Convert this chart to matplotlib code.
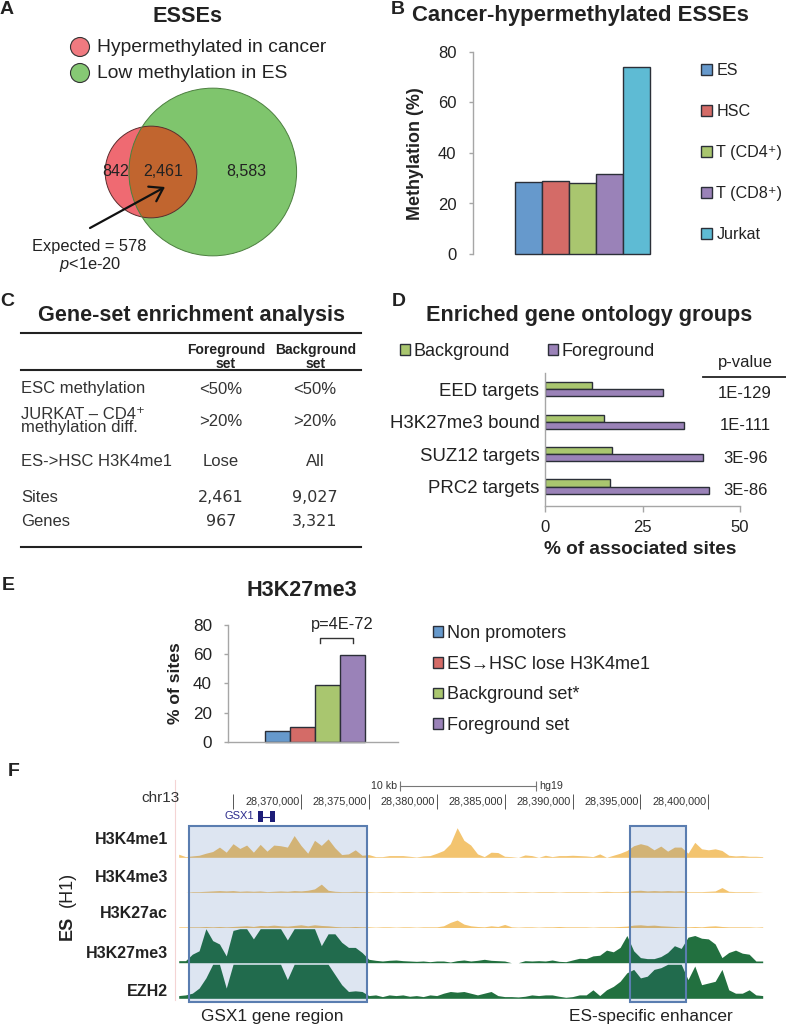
import numpy as np
import matplotlib
matplotlib.use("Agg")
import matplotlib.pyplot as plt
from matplotlib.patches import Circle, Rectangle

plt.rcParams['font.family'] = ['Liberation Sans', 'DejaVu Sans']
plt.rcParams['mathtext.fontset'] = 'custom'
plt.rcParams['mathtext.rm'] = 'Liberation Sans'
plt.rcParams['mathtext.it'] = 'Liberation Sans:italic'

TXT = "#222222"
AX_GRAY = "#a6a6a6"
EDGE = "#2b2f38"
BLUE, RED, GREEN, PURPLE, AQUA = "#6699cc", "#d46b67", "#a9c66f", "#9a82b8", "#5ebbd4"
plt.rcParams['text.color'] = TXT

# ---- A: Venn of ESSEs
venn_hyper_only = 842
venn_both = 2461
venn_low_only = 8583
expected_overlap = 578
expected_p = "$p$<1e-20"

# ---- B: methylation of cancer-hypermethylated ESSEs
b_samples = ["ES", "HSC", "T (CD4⁺)", "T (CD8⁺)", "Jurkat"]
b_methylation = [28.4, 29.0, 28.1, 31.6, 73.9]
b_colors = [BLUE, RED, GREEN, PURPLE, AQUA]

# ---- C: gene-set enrichment table
c_rows = ["ESC methylation", "JURKAT – CD4⁺\nmethylation diff.", "ES->HSC H3K4me1", "Sites", "Genes"]
c_foreground = ["<50%", ">20%", "Lose", "2,461", "967"]
c_background = ["<50%", ">20%", "All", "9,027", "3,321"]

# ---- D: enriched GO groups
d_groups = ["EED targets", "H3K27me3 bound", "SUZ12 targets", "PRC2 targets"]
d_background = [12.0, 15.0, 17.1, 16.7]
d_foreground = [30.3, 35.7, 40.4, 42.1]
d_pvalues = ["1E-129", "1E-111", "3E-96", "3E-86"]

# ---- E: H3K27me3
e_sets = ["Non promoters", "ES→HSC lose H3K4me1", "Background set*", "Foreground set"]
e_percent = [7.3, 9.8, 38.6, 59.4]
e_colors = [BLUE, RED, GREEN, PURPLE]
e_pvalue = "p=4E-72"

# ---- F: genome browser, chr13 (kb), signal as fraction of track height
f_kb = 28361.0 + 0.5 * np.arange(87)
f_names = ["H3K4me1", "H3K4me3", "H3K27ac", "H3K27me3", "EZH2"]
f_h3k4me1 = [
    0.09, 0.02, 0.04, 0.06, 0.12, 0.17, 0.30, 0.15, 0.40, 0.26,
    0.36, 0.15, 0.38, 0.18, 0.36, 0.34, 0.30, 0.64, 0.35, 0.12,
    0.50, 0.35, 0.54, 0.28, 0.08, 0.10, 0.22, 0.06, 0.08, 0.02,
    0.02, 0.05, 0.05, 0.05, 0.03, 0.01, 0.04, 0.05, 0.12, 0.20,
    0.40, 0.87, 0.50, 0.36, 0.10, 0.02, 0.15, 0.14, 0.03, 0.02,
    0.00, 0.07, 0.05, 0.00, 0.06, 0.02, 0.05, 0.05, 0.06, 0.05,
    0.04, 0.02, 0.10, 0.00, 0.06, 0.12, 0.20, 0.34, 0.40, 0.35,
    0.22, 0.33, 0.18, 0.30, 0.30, 0.12, 0.44, 0.25, 0.22, 0.25,
    0.20, 0.06, 0.04, 0.05, 0.03, 0.03, 0.02]
f_h3k4me3 = [
    0.00, 0.00, 0.02, 0.02, 0.03, 0.04, 0.05, 0.04, 0.05, 0.03,
    0.04, 0.03, 0.04, 0.02, 0.03, 0.04, 0.03, 0.05, 0.04, 0.06,
    0.10, 0.24, 0.06, 0.03, 0.02, 0.02, 0.03, 0.02, 0.02, 0.01,
    0.02, 0.02, 0.01, 0.02, 0.02, 0.01, 0.02, 0.02, 0.01, 0.02,
    0.02, 0.02, 0.01, 0.02, 0.02, 0.01, 0.02, 0.02, 0.02, 0.01,
    0.02, 0.02, 0.01, 0.02, 0.02, 0.02, 0.01, 0.02, 0.02, 0.02,
    0.02, 0.01, 0.02, 0.03, 0.02, 0.02, 0.03, 0.05, 0.06, 0.04,
    0.05, 0.04, 0.05, 0.04, 0.05, 0.02, 0.02, 0.02, 0.03, 0.04,
    0.14, 0.03, 0.02, 0.02, 0.02, 0.01, 0.00]
f_h3k27ac = [
    0.02, 0.02, 0.02, 0.02, 0.03, 0.02, 0.03, 0.02, 0.03, 0.04,
    0.05, 0.03, 0.06, 0.05, 0.07, 0.05, 0.04, 0.06, 0.08, 0.05,
    0.08, 0.06, 0.05, 0.03, 0.02, 0.02, 0.03, 0.02, 0.02, 0.01,
    0.02, 0.02, 0.01, 0.02, 0.02, 0.01, 0.02, 0.02, 0.02, 0.05,
    0.15, 0.22, 0.10, 0.05, 0.03, 0.02, 0.05, 0.03, 0.09, 0.02,
    0.01, 0.02, 0.02, 0.01, 0.02, 0.02, 0.03, 0.02, 0.02, 0.02,
    0.02, 0.01, 0.02, 0.02, 0.02, 0.03, 0.04, 0.07, 0.08, 0.06,
    0.07, 0.05, 0.04, 0.03, 0.02, 0.02, 0.03, 0.02, 0.04, 0.05,
    0.03, 0.02, 0.02, 0.02, 0.02, 0.01, 0.02]
f_h3k27me3 = [
    0.06, 0.06, 0.25, 0.35, 1.00, 0.65, 0.55, 0.20, 0.95, 1.00,
    1.00, 0.70, 1.00, 1.00, 1.00, 1.00, 0.67, 1.00, 1.00, 1.00,
    1.00, 0.50, 0.85, 0.85, 0.60, 0.45, 0.45, 0.30, 0.10, 0.07,
    0.05, 0.07, 0.08, 0.06, 0.05, 0.04, 0.05, 0.03, 0.05, 0.05,
    0.02, 0.06, 0.08, 0.05, 0.07, 0.10, 0.07, 0.06, 0.05, 0.00,
    0.00, 0.06, 0.05, 0.06, 0.05, 0.08, 0.04, 0.03, 0.08, 0.13,
    0.12, 0.20, 0.22, 0.37, 0.32, 0.45, 0.80, 0.35, 0.15, 0.12,
    0.12, 0.18, 0.30, 0.50, 0.42, 0.75, 0.80, 0.72, 0.70, 0.55,
    0.15, 0.30, 0.37, 0.28, 0.25, 0.05, 0.05]
f_ezh2 = [
    0.08, 0.10, 0.15, 0.30, 0.60, 1.00, 1.00, 0.30, 1.00, 1.00,
    1.00, 1.00, 1.00, 1.00, 1.00, 1.00, 0.55, 1.00, 1.00, 1.00,
    1.00, 1.00, 1.00, 0.70, 0.40, 0.20, 0.22, 0.20, 0.08, 0.10,
    0.05, 0.10, 0.08, 0.10, 0.06, 0.08, 0.05, 0.10, 0.08, 0.15,
    0.20, 0.18, 0.20, 0.15, 0.10, 0.15, 0.20, 0.08, 0.05, 0.05,
    0.04, 0.06, 0.10, 0.08, 0.10, 0.10, 0.06, 0.03, 0.05, 0.10,
    0.10, 0.25, 0.08, 0.25, 0.35, 0.50, 0.75, 0.85, 0.60, 0.65,
    0.85, 0.90, 1.00, 1.00, 1.00, 0.55, 0.95, 0.40, 0.45, 0.50,
    0.85, 0.25, 0.15, 0.15, 0.25, 0.10, 0.08]
f_tracks = [f_h3k4me1, f_h3k4me3, f_h3k27ac, f_h3k27me3, f_ezh2]
f_colors = ["#f3c46f", "#f3c46f", "#f3c46f", "#22703f", "#22703f"]
f_coord_ticks = [28365, 28370, 28375, 28380, 28385, 28390, 28395, 28400]
f_gsx1_exons = [(28366.84, 28367.21), (28367.72, 28368.09)]
f_regions = [(28361.75, 28374.85), (28394.25, 28398.35)]
f_region_names = ["GSX1 gene region", "ES-specific enhancer"]

W, H = 786, 1027
fig = plt.figure(figsize=(W / 100, H / 100), dpi=100)


def px_axes(x0, y0, x1, y1):
    ax = fig.add_axes([x0 / W, 1 - y1 / H, (x1 - x0) / W, (y1 - y0) / H])
    ax.patch.set_visible(False)
    return ax


def fig_xy(x, y):
    return (x / W, 1 - y / H)


def gray_spines(ax, keep):
    for s in ["top", "right", "bottom", "left"]:
        ax.spines[s].set_visible(s in keep)
        ax.spines[s].set_color(AX_GRAY)
        ax.spines[s].set_linewidth(1.0)


# ---------------- B
ax_b = px_axes(473, 52, 692, 254)
bars_b = ax_b.bar(np.arange(len(b_samples)), b_methylation, width=1.0, color=b_colors,
                  edgecolor=EDGE, linewidth=1.0, clip_on=False)
ax_b.set_xlim(-2.05, 6.05)
ax_b.set_ylim(0, 80)
ax_b.set_yticks([0, 20, 40, 60, 80])
ax_b.set_xticks([])
gray_spines(ax_b, ["left"])
ax_b.tick_params(axis="y", length=3, width=1, color=AX_GRAY, labelsize=12, pad=9, labelcolor=TXT)
ax_b.legend(bars_b.patches, b_samples, loc="upper left", bbox_to_anchor=fig_xy(701, 63),
            bbox_transform=fig.transFigure, frameon=False, fontsize=11.6, borderpad=0,
            borderaxespad=0, handlelength=0.7, handleheight=0.7, handletextpad=0.25,
            labelspacing=1.62, labelcolor=TXT)

# ---------------- D
ax_d = px_axes(545, 373, 740, 506)
yd = np.arange(len(d_groups))
bars_bg = ax_d.barh(yd - 0.11, d_background, height=0.22, color=GREEN, edgecolor=EDGE, linewidth=1.0)
bars_fg = ax_d.barh(yd + 0.11, d_foreground, height=0.22, color=PURPLE, edgecolor=EDGE, linewidth=1.0)
ax_d.set_xlim(0, 50)
ax_d.set_ylim(3.6, -0.5)
ax_d.set_xticks([0, 25, 50])
ax_d.set_yticks(yd, d_groups)
gray_spines(ax_d, ["left", "bottom"])
ax_d.tick_params(axis="x", length=4.3, width=1, color=AX_GRAY, labelsize=12, pad=6, labelcolor=TXT)
ax_d.tick_params(axis="y", length=0, labelsize=13.4, pad=4, labelcolor=TXT)
for i, p in enumerate(d_pvalues):
    ax_d.text(51.3, i + 0.13, p, ha="center", va="center", fontsize=12, clip_on=False)
ax_d.legend([bars_bg, bars_fg], ["Background", "Foreground"], loc="upper left",
            bbox_to_anchor=fig_xy(400, 343), bbox_transform=fig.transFigure, ncol=2,
            frameon=False, fontsize=13, borderpad=0, borderaxespad=0, handlelength=0.55,
            handleheight=0.55, handletextpad=0.2, columnspacing=2.1, labelcolor=TXT)

# ---------------- E
ax_e = px_axes(228, 625, 398, 741.7)
bars_e = ax_e.bar(np.arange(len(e_sets)), e_percent, width=1.0, color=e_colors,
                  edgecolor=EDGE, linewidth=1.0, clip_on=False)
ax_e.set_xlim(-1.98, 4.82)
ax_e.set_ylim(0, 80)
ax_e.set_yticks([0, 20, 40, 60, 80])
ax_e.set_xticks([])
gray_spines(ax_e, ["left", "bottom"])
ax_e.tick_params(axis="y", length=3, width=1, color=AX_GRAY, labelsize=12.3, pad=8.5, labelcolor=TXT)
top = max(e_percent[2:]) + 11.9
ax_e.plot([1.7, 1.7, 3.0, 3.0], [top - 3.4, top, top, top - 3.4], color="#333333", lw=1.0, clip_on=False)
ax_e.text(2.6, 80, e_pvalue, ha="center", va="center", fontsize=11.8, clip_on=False)
ax_e.legend(bars_e.patches, e_sets, loc="upper left", bbox_to_anchor=fig_xy(433, 625),
            bbox_transform=fig.transFigure, frameon=False, fontsize=13, borderpad=0,
            borderaxespad=0, handlelength=0.55, handleheight=0.55, handletextpad=0.2,
            labelspacing=0.76, labelcolor=TXT)

# ---------------- F
ax_f = px_axes(176, 775, 765, 1005)
ax_f.set_xlim(28360.80, 28404.17)
ax_f.set_ylim(230, 0)
ax_f.axis("off")
baselines = [82.3, 117.3, 152.5, 187.7, 223.3]
track_h = 34
for vals, base, col in zip(f_tracks, baselines, f_colors):
    v = np.array(vals)
    ax_f.fill_between(f_kb, base, base - v * track_h, color=col, lw=0)
for a, b in f_regions:
    ax_f.add_patch(Rectangle((a, 51), b - a, 176, facecolor="#1c52a2", alpha=0.15, lw=0, zorder=3))
    ax_f.add_patch(Rectangle((a, 51), b - a, 176, fill=False, edgecolor="#5a7db0", lw=1.5, zorder=4))
# ruler
ax_f.vlines(f_coord_ticks, 19, 34, color="#555555", lw=0.7)
for t in f_coord_ticks[1:]:
    ax_f.text(t - 0.12, 27, f"{t * 1000:,}", ha="right", va="center", fontsize=7.8, color="#333333")
ax_f.plot([28377.3, 28387.3], [11, 11], color="#777777", lw=0.8)
ax_f.vlines([28377.3, 28387.3], 6, 16, color="#777777", lw=0.8)
ax_f.text(28377.1, 11, "10 kb", ha="right", va="center", fontsize=7.7, color="#333333")
ax_f.text(28387.55, 11, "hg19", ha="left", va="center", fontsize=7.7, color="#333333")
# gene
for a, b in f_gsx1_exons:
    ax_f.add_patch(Rectangle((a, 36), b - a, 11, color="#1d1d78", lw=0))
ax_f.plot([f_gsx1_exons[0][1], f_gsx1_exons[1][0]], [41.5, 41.5], color="#1d1d78", lw=0.8)
ax_f.text(f_gsx1_exons[0][0] - 0.3, 41, "GSX1", ha="right", va="center", fontsize=8, color="#2b2b8c")

# ---------------- overlay (A, C and labels)
ov = fig.add_axes([0, 0, 1, 1])
ov.set_xlim(0, W)
ov.set_ylim(H, 0)
ov.axis("off")
ov.patch.set_visible(False)

for lab, x, y in [("A", 7, 10), ("B", 398, 10), ("C", 7, 301), ("D", 399, 301), ("E", 8, 585), ("F", 14, 772)]:
    ov.text(x, y, lab, fontsize=14, fontweight="bold", ha="center", va="center")

# A
ov.text(187, 16, "ESSEs", fontsize=15.6, fontweight="bold", ha="center", va="center")
ov.add_patch(Circle((80, 47), 9.5, facecolor="#f07a80", edgecolor="#333333", lw=0.8))
ov.add_patch(Circle((80, 73), 9.5, facecolor="#86c974", edgecolor="#333333", lw=0.8))
ov.text(97, 47, "Hypermethylated in cancer", fontsize=13.9, va="center")
ov.text(97, 73, "Low methylation in ES", fontsize=13.9, va="center")

area_per_site = 2.0
r_hyper = np.sqrt((venn_hyper_only + venn_both) * area_per_site / np.pi)
r_low = np.sqrt((venn_both + venn_low_only) * area_per_site / np.pi)


def lens_area(r1, r2, d):
    a1 = np.arccos((d * d + r1 * r1 - r2 * r2) / (2 * d * r1))
    a2 = np.arccos((d * d + r2 * r2 - r1 * r1) / (2 * d * r2))
    k = 0.5 * np.sqrt((-d + r1 + r2) * (d + r1 - r2) * (d - r1 + r2) * (d + r1 + r2))
    return r1 * r1 * a1 + r2 * r2 * a2 - k


lo, hi = r_low - r_hyper + 1e-6, r_low + r_hyper - 1e-6
target = venn_both * area_per_site
for _ in range(60):
    mid = 0.5 * (lo + hi)
    if lens_area(r_hyper, r_low, mid) > target:
        lo = mid
    else:
        hi = mid
dist = 0.5 * (lo + hi)
cx_h, cy = 151, 172
cx_l = cx_h + dist
ov.add_patch(Circle((cx_h, cy), r_hyper, facecolor="#ef6a72", lw=0))
green_c = Circle((cx_l, cy), r_low, facecolor="#7fc56d", lw=0)
ov.add_patch(green_c)
lens = Circle((cx_h, cy), r_hyper, facecolor="#c1652f", lw=0)
ov.add_patch(lens)
lens.set_clip_path(green_c)
ov.add_patch(Circle((cx_h, cy), r_hyper, fill=False, edgecolor="#5b2e2e", lw=0.7))
ov.add_patch(Circle((cx_l, cy), r_low, fill=False, edgecolor="#4c7f3f", lw=0.7))
ov.text(((cx_h - r_hyper) + (cx_l - r_low)) / 2 - 1, cy, f"{venn_hyper_only:,}", fontsize=11.5, ha="center", va="center")
ov.text(((cx_l - r_low) + (cx_h + r_hyper)) / 2, cy, f"{venn_both:,}", fontsize=11.5, ha="center", va="center")
ov.text(((cx_h + r_hyper) + (cx_l + r_low)) / 2, cy, f"{venn_low_only:,}", fontsize=11.5, ha="center", va="center")
ov.annotate("", xy=(165, 187), xytext=(90, 228),
            arrowprops=dict(arrowstyle="->,head_length=0.45,head_width=0.3", lw=1.6,
                            color="#111111", mutation_scale=20, shrinkA=0, shrinkB=0))
ov.text(89, 246, f"Expected = {expected_overlap}", fontsize=11.8, ha="center", va="center")
ov.text(90, 264, expected_p, fontsize=11.8, ha="center", va="center")

# B labels
ov.text(580, 15, "Cancer-hypermethylated ESSEs", fontsize=15.9, fontweight="bold", ha="center", va="center")
ov.text(415, 154, "Methylation (%)", fontsize=12.9, fontweight="bold", rotation=90, ha="center", va="center")

# C table
ov.text(191, 315, "Gene-set enrichment analysis", fontsize=15.6, fontweight="bold", ha="center", va="center")
ov.plot([21, 361], [333, 333], color="#222222", lw=1.5)
ov.text(226, 357, "Foreground\nset", fontsize=10, fontweight="bold", ha="center", va="center", linespacing=1.0)
ov.text(316, 357, "Background\nset", fontsize=10, fontweight="bold", ha="center", va="center", linespacing=1.0)
ov.plot([21, 361], [369.5, 369.5], color="#222222", lw=1.5)
row_y = [389, 421, 462, 497, 522]
for i, (lab, fgv, bgv, y) in enumerate(zip(c_rows, c_foreground, c_background, row_y)):
    ov.text(21, y, lab, fontsize=12, ha="left", va="center", linespacing=0.85, color="#333333")
    fam = ["DejaVu Sans"] if i >= 3 else ["Liberation Sans", "DejaVu Sans"]
    fs = 11.5 if i >= 3 else 12
    ov.text(221, y, fgv, fontsize=fs, ha="center", va="center", family=fam, color="#333333")
    ov.text(315, y, bgv, fontsize=fs, ha="center", va="center", family=fam, color="#333333")
ov.plot([21, 361], [547, 547], color="#222222", lw=1.5)

# D labels
ov.text(589, 315, "Enriched gene ontology groups", fontsize=15.6, fontweight="bold", ha="center", va="center")
ov.text(745, 363, "p-value", fontsize=12, ha="center", va="center")
ov.plot([703, 786], [377, 377], color="#222222", lw=1.3)
ov.text(640, 550, "% of associated sites", fontsize=13.7, fontweight="bold", ha="center", va="center")

# E labels
ov.text(302, 591, "H3K27me3", fontsize=15.6, fontweight="bold", ha="center", va="center")
ov.text(175, 683, "% of sites", fontsize=12.6, fontweight="bold", rotation=90, ha="center", va="center")

# F labels
ov.plot([175, 175], [780, 1000], color="#f4d4d4", lw=0.8)
ov.text(180, 798, "chr13", fontsize=11, ha="right", va="center", color="#333333")
for name, y in zip(f_names, [840, 877, 914, 953, 992]):
    ov.text(168, y, name, fontsize=11.5, fontweight="bold", ha="right", va="center")
ov.text(67, 928, "ES", fontsize=13, fontweight="bold", rotation=90, ha="center", va="center")
ov.text(67, 889, "(H1)", fontsize=13, rotation=90, ha="center", va="center")
for name, x in zip(f_region_names, [272, 651]):
    ov.text(x, 1017, name, fontsize=12.4, ha="center", va="center")

fig.savefig("out.png", dpi=100)
